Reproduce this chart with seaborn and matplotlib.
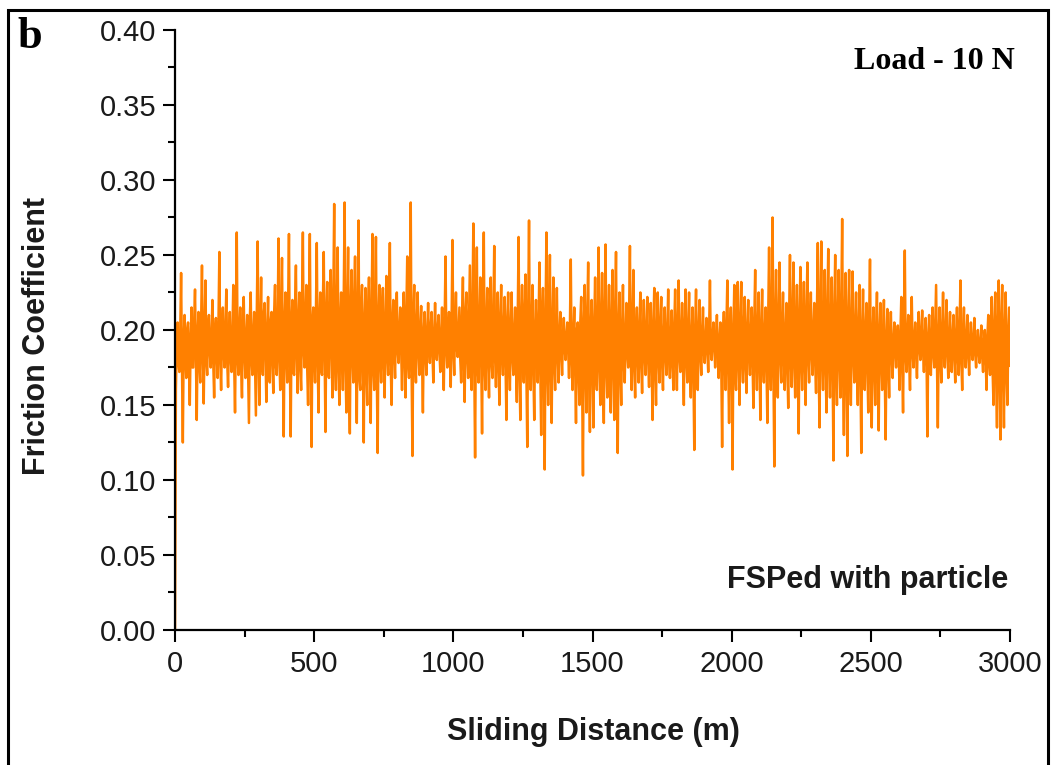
import numpy as np
import pandas as pd
import seaborn as sns
import matplotlib
matplotlib.use("Agg")
import matplotlib.pyplot as plt
from matplotlib.patches import Rectangle
from matplotlib.ticker import MultipleLocator

# friction trace, one row per 100 m of sliding.
# peak_values: alternating low / high excursions (spikes)
# core_values: readings inside the dense band, taken between the excursions
start_value = [0.0]
peak_values = [
    [0.160, 0.205, 0.172, 0.238, 0.125, 0.210, 0.168, 0.205, 0.150, 0.215, 0.175, 0.227, 0.140, 0.212, 0.165, 0.243],
    [0.151, 0.233, 0.170, 0.210, 0.175, 0.220, 0.155, 0.208, 0.168, 0.252, 0.160, 0.215, 0.175, 0.227, 0.162, 0.212],
    [0.172, 0.230, 0.145, 0.265, 0.170, 0.215, 0.155, 0.222, 0.168, 0.210, 0.138, 0.225, 0.170, 0.212, 0.143, 0.259],
    [0.150, 0.235, 0.170, 0.218, 0.152, 0.222, 0.165, 0.212, 0.158, 0.230, 0.170, 0.261, 0.160, 0.248, 0.129, 0.225],
    [0.165, 0.264, 0.129, 0.220, 0.170, 0.243, 0.158, 0.225, 0.160, 0.265, 0.175, 0.230, 0.150, 0.264, 0.122, 0.215],
    [0.165, 0.258, 0.145, 0.225, 0.170, 0.252, 0.132, 0.232, 0.168, 0.240, 0.155, 0.284, 0.160, 0.255, 0.150, 0.225],
    [0.160, 0.285, 0.145, 0.255, 0.131, 0.240, 0.165, 0.249, 0.138, 0.273, 0.160, 0.230, 0.125, 0.228, 0.150, 0.235],
    [0.138, 0.264, 0.160, 0.262, 0.118, 0.230, 0.165, 0.228, 0.155, 0.236, 0.170, 0.258, 0.150, 0.220, 0.168, 0.225],
    [0.178, 0.215, 0.160, 0.225, 0.155, 0.249, 0.168, 0.285, 0.116, 0.230, 0.165, 0.225, 0.170, 0.216, 0.145, 0.212],
    [0.170, 0.218, 0.178, 0.212, 0.165, 0.218, 0.180, 0.210, 0.172, 0.215, 0.160, 0.249, 0.175, 0.212, 0.162, 0.260],
    [0.170, 0.225, 0.182, 0.215, 0.165, 0.235, 0.152, 0.225, 0.168, 0.243, 0.160, 0.271, 0.115, 0.255, 0.165, 0.235],
    [0.131, 0.265, 0.160, 0.228, 0.155, 0.235, 0.168, 0.256, 0.162, 0.225, 0.150, 0.230, 0.170, 0.222, 0.140, 0.225],
    [0.160, 0.225, 0.170, 0.215, 0.152, 0.262, 0.140, 0.230, 0.165, 0.237, 0.122, 0.273, 0.160, 0.230, 0.140, 0.220],
    [0.165, 0.245, 0.130, 0.228, 0.107, 0.265, 0.150, 0.250, 0.138, 0.235, 0.160, 0.228, 0.165, 0.212, 0.170, 0.208],
    [0.180, 0.205, 0.168, 0.247, 0.160, 0.215, 0.138, 0.205, 0.150, 0.222, 0.103, 0.230, 0.145, 0.245, 0.132, 0.220],
    [0.135, 0.235, 0.160, 0.255, 0.150, 0.238, 0.138, 0.257, 0.155, 0.230, 0.145, 0.240, 0.140, 0.252, 0.118, 0.225],
    [0.150, 0.230, 0.165, 0.218, 0.175, 0.256, 0.160, 0.240, 0.155, 0.215, 0.165, 0.225, 0.158, 0.220, 0.170, 0.222],
    [0.162, 0.218, 0.140, 0.228, 0.150, 0.225, 0.165, 0.222, 0.160, 0.215, 0.170, 0.227, 0.168, 0.213, 0.160, 0.227],
    [0.160, 0.233, 0.172, 0.218, 0.150, 0.227, 0.165, 0.225, 0.155, 0.215, 0.120, 0.227, 0.160, 0.220, 0.170, 0.215],
    [0.178, 0.208, 0.172, 0.233, 0.180, 0.205, 0.175, 0.210, 0.168, 0.205, 0.122, 0.212, 0.160, 0.233, 0.138, 0.215],
    [0.107, 0.230, 0.160, 0.232, 0.150, 0.232, 0.165, 0.222, 0.158, 0.220, 0.170, 0.215, 0.148, 0.240, 0.160, 0.225],
    [0.140, 0.227, 0.165, 0.215, 0.138, 0.255, 0.160, 0.275, 0.109, 0.240, 0.155, 0.245, 0.165, 0.225, 0.160, 0.218],
    [0.148, 0.250, 0.162, 0.245, 0.155, 0.230, 0.131, 0.242, 0.160, 0.232, 0.150, 0.245, 0.165, 0.225, 0.170, 0.218],
    [0.158, 0.258, 0.135, 0.259, 0.160, 0.240, 0.145, 0.254, 0.155, 0.235, 0.113, 0.250, 0.150, 0.240, 0.155, 0.274],
    [0.130, 0.238, 0.116, 0.240, 0.150, 0.239, 0.165, 0.225, 0.150, 0.230, 0.118, 0.227, 0.160, 0.218, 0.145, 0.247],
    [0.135, 0.215, 0.150, 0.225, 0.133, 0.218, 0.160, 0.220, 0.127, 0.214, 0.155, 0.212, 0.168, 0.205, 0.175, 0.203],
    [0.160, 0.222, 0.145, 0.253, 0.172, 0.210, 0.160, 0.222, 0.175, 0.205, 0.168, 0.212, 0.180, 0.213, 0.172, 0.208],
    [0.129, 0.210, 0.170, 0.215, 0.175, 0.230, 0.135, 0.215, 0.165, 0.225, 0.175, 0.220, 0.168, 0.212, 0.172, 0.210],
    [0.165, 0.215, 0.170, 0.233, 0.160, 0.215, 0.175, 0.210, 0.170, 0.205, 0.180, 0.208, 0.175, 0.200, 0.178, 0.203],
    [0.172, 0.200, 0.160, 0.210, 0.170, 0.222, 0.150, 0.225, 0.135, 0.233, 0.127, 0.230, 0.135, 0.225, 0.150, 0.215],
]
core_values = [
    [0.190, 0.178, 0.198, 0.176, 0.192, 0.182, 0.200, 0.180, 0.194, 0.175, 0.205, 0.183, 0.196, 0.178, 0.202, 0.185],
    [0.197, 0.180, 0.203, 0.186, 0.195, 0.178, 0.200, 0.184, 0.206, 0.180, 0.196, 0.185, 0.202, 0.179, 0.193, 0.182],
    [0.196, 0.178, 0.208, 0.182, 0.199, 0.176, 0.204, 0.184, 0.195, 0.174, 0.207, 0.181, 0.198, 0.177, 0.210, 0.183],
    [0.202, 0.178, 0.210, 0.184, 0.198, 0.172, 0.206, 0.180, 0.212, 0.176, 0.204, 0.182, 0.214, 0.174, 0.205, 0.183],
    [0.212, 0.180, 0.204, 0.172, 0.215, 0.184, 0.206, 0.176, 0.218, 0.186, 0.208, 0.174, 0.214, 0.178, 0.205, 0.182],
    [0.214, 0.180, 0.206, 0.174, 0.218, 0.184, 0.210, 0.172, 0.216, 0.186, 0.222, 0.178, 0.212, 0.175, 0.208, 0.184],
    [0.220, 0.176, 0.210, 0.170, 0.216, 0.182, 0.222, 0.174, 0.212, 0.168, 0.214, 0.178, 0.206, 0.172, 0.215, 0.180],
    [0.212, 0.174, 0.218, 0.170, 0.208, 0.180, 0.214, 0.176, 0.206, 0.182, 0.212, 0.178, 0.204, 0.184, 0.208, 0.186],
    [0.200, 0.186, 0.206, 0.180, 0.212, 0.178, 0.218, 0.172, 0.208, 0.182, 0.204, 0.186, 0.200, 0.180, 0.198, 0.185],
    [0.198, 0.188, 0.202, 0.184, 0.196, 0.190, 0.200, 0.186, 0.197, 0.183, 0.204, 0.188, 0.199, 0.182, 0.208, 0.186],
    [0.204, 0.188, 0.199, 0.180, 0.208, 0.176, 0.212, 0.182, 0.206, 0.172, 0.214, 0.178, 0.210, 0.174, 0.206, 0.180],
    [0.210, 0.176, 0.204, 0.180, 0.212, 0.178, 0.206, 0.182, 0.200, 0.176, 0.208, 0.184, 0.202, 0.178, 0.205, 0.180],
    [0.202, 0.182, 0.198, 0.176, 0.210, 0.172, 0.206, 0.180, 0.214, 0.170, 0.210, 0.178, 0.204, 0.174, 0.200, 0.184],
    [0.206, 0.172, 0.212, 0.168, 0.208, 0.176, 0.214, 0.170, 0.204, 0.178, 0.200, 0.184, 0.196, 0.186, 0.194, 0.188],
    [0.196, 0.186, 0.202, 0.180, 0.194, 0.176, 0.200, 0.172, 0.206, 0.168, 0.204, 0.174, 0.210, 0.170, 0.202, 0.176],
    [0.204, 0.170, 0.210, 0.176, 0.206, 0.168, 0.212, 0.174, 0.200, 0.170, 0.208, 0.176, 0.210, 0.168, 0.202, 0.174],
    [0.200, 0.178, 0.196, 0.184, 0.208, 0.180, 0.204, 0.176, 0.198, 0.182, 0.202, 0.178, 0.196, 0.184, 0.200, 0.180],
    [0.196, 0.180, 0.202, 0.174, 0.198, 0.182, 0.204, 0.178, 0.196, 0.184, 0.200, 0.180, 0.194, 0.178, 0.202, 0.182],
    [0.202, 0.182, 0.198, 0.176, 0.204, 0.180, 0.200, 0.178, 0.196, 0.172, 0.200, 0.180, 0.198, 0.184, 0.196, 0.186],
    [0.194, 0.188, 0.198, 0.186, 0.194, 0.190, 0.196, 0.186, 0.192, 0.178, 0.196, 0.182, 0.204, 0.176, 0.198, 0.180],
    [0.198, 0.172, 0.206, 0.178, 0.204, 0.180, 0.202, 0.176, 0.200, 0.184, 0.198, 0.178, 0.206, 0.180, 0.200, 0.178],
    [0.200, 0.180, 0.198, 0.176, 0.210, 0.180, 0.214, 0.172, 0.206, 0.178, 0.208, 0.182, 0.202, 0.180, 0.198, 0.176],
    [0.208, 0.180, 0.210, 0.178, 0.204, 0.174, 0.208, 0.180, 0.206, 0.176, 0.210, 0.182, 0.204, 0.184, 0.200, 0.178],
    [0.212, 0.176, 0.214, 0.180, 0.206, 0.174, 0.212, 0.178, 0.206, 0.170, 0.210, 0.176, 0.208, 0.180, 0.214, 0.174],
    [0.206, 0.170, 0.208, 0.176, 0.204, 0.182, 0.200, 0.176, 0.202, 0.170, 0.198, 0.180, 0.200, 0.176, 0.206, 0.172],
    [0.196, 0.176, 0.200, 0.172, 0.198, 0.180, 0.196, 0.170, 0.194, 0.178, 0.196, 0.184, 0.192, 0.186, 0.194, 0.184],
    [0.198, 0.178, 0.206, 0.184, 0.196, 0.180, 0.198, 0.186, 0.194, 0.184, 0.196, 0.188, 0.198, 0.186, 0.194, 0.182],
    [0.194, 0.176, 0.198, 0.184, 0.202, 0.178, 0.196, 0.182, 0.200, 0.184, 0.198, 0.186, 0.194, 0.182, 0.196, 0.184],
    [0.196, 0.182, 0.202, 0.180, 0.196, 0.186, 0.194, 0.184, 0.192, 0.186, 0.194, 0.184, 0.190, 0.186, 0.192, 0.182],
    [0.192, 0.180, 0.196, 0.178, 0.200, 0.172, 0.202, 0.170, 0.204, 0.168, 0.206, 0.170, 0.200, 0.172, 0.198, 0.176],
]
max_distance = 3000

x_ticks = [0, 500, 1000, 1500, 2000, 2500, 3000]
y_ticks = [0.00, 0.05, 0.10, 0.15, 0.20, 0.25, 0.30, 0.35, 0.40]

# interleave: excursion, band reading, excursion, band reading, ...
friction = list(start_value)
for peak_row, core_row in zip(peak_values, core_values):
    for p, c in zip(peak_row, core_row):
        friction += [p, c]
distance = np.linspace(0, max_distance, len(friction))
df = pd.DataFrame({"distance": distance, "friction": friction})

sns.set_theme(style="ticks")
plt.rcParams["font.family"] = ["Liberation Sans", "DejaVu Sans"]

fig = plt.figure(figsize=(10.53, 7.65), dpi=100)
ax = fig.add_axes([0.1662, 0.1765, 0.7930, 0.7843])

sns.lineplot(data=df, x="distance", y="friction", ax=ax, color="#FF8000",
             linewidth=1.8, estimator=None, sort=False)

ax.set_xlim(0, max_distance)
ax.set_ylim(0, 0.40)
ax.set_xticks(x_ticks)
ax.set_yticks(y_ticks)
ax.set_yticklabels([f"{v:.2f}" for v in y_ticks])
ax.xaxis.set_minor_locator(MultipleLocator(250))
ax.yaxis.set_minor_locator(MultipleLocator(0.025))

for side in ["top", "right"]:
    ax.spines[side].set_visible(False)
for side in ["left", "bottom"]:
    ax.spines[side].set_linewidth(1.6)
    ax.spines[side].set_color("black")

ax.tick_params(which="major", direction="out", length=8.5, width=1.5,
               colors="black", labelsize=21, labelcolor="#1a1a1a")
ax.tick_params(which="minor", direction="out", length=5, width=1.5, colors="black")
ax.tick_params(axis="x", which="major", pad=6)
ax.tick_params(axis="y", which="major", pad=5)

ax.set_xlabel("Sliding Distance (m)", fontsize=22, fontweight="bold", color="#1a1a1a")
ax.set_ylabel("Friction Coefficient", fontsize=22, fontweight="bold", color="#1a1a1a")
ax.xaxis.set_label_coords(0.501, -0.145)
ax.yaxis.set_label_coords(-0.147, 0.49)

ax.text(1.006, 0.947, "Load - 10 N", transform=ax.transAxes, ha="right", va="center",
        fontsize=23, fontweight="bold", color="black",
        family=["Liberation Serif", "DejaVu Serif"])
ax.text(0.998, 0.083, "FSPed with particle", transform=ax.transAxes, ha="right",
        va="center", fontsize=22, fontweight="bold", color="#1a1a1a")
fig.text(0.017, 0.951, "b", ha="left", va="center", fontsize=32, fontweight="bold",
         color="black", family=["Liberation Serif", "DejaVu Serif"])

# frame around the whole panel
fig.add_artist(Rectangle((8 / 1053, -0.02), 1040 / 1053, 1.02 - 10 / 765,
                         transform=fig.transFigure, fill=False,
                         edgecolor="black", linewidth=2.2))

fig.savefig("out.png", dpi=100)
